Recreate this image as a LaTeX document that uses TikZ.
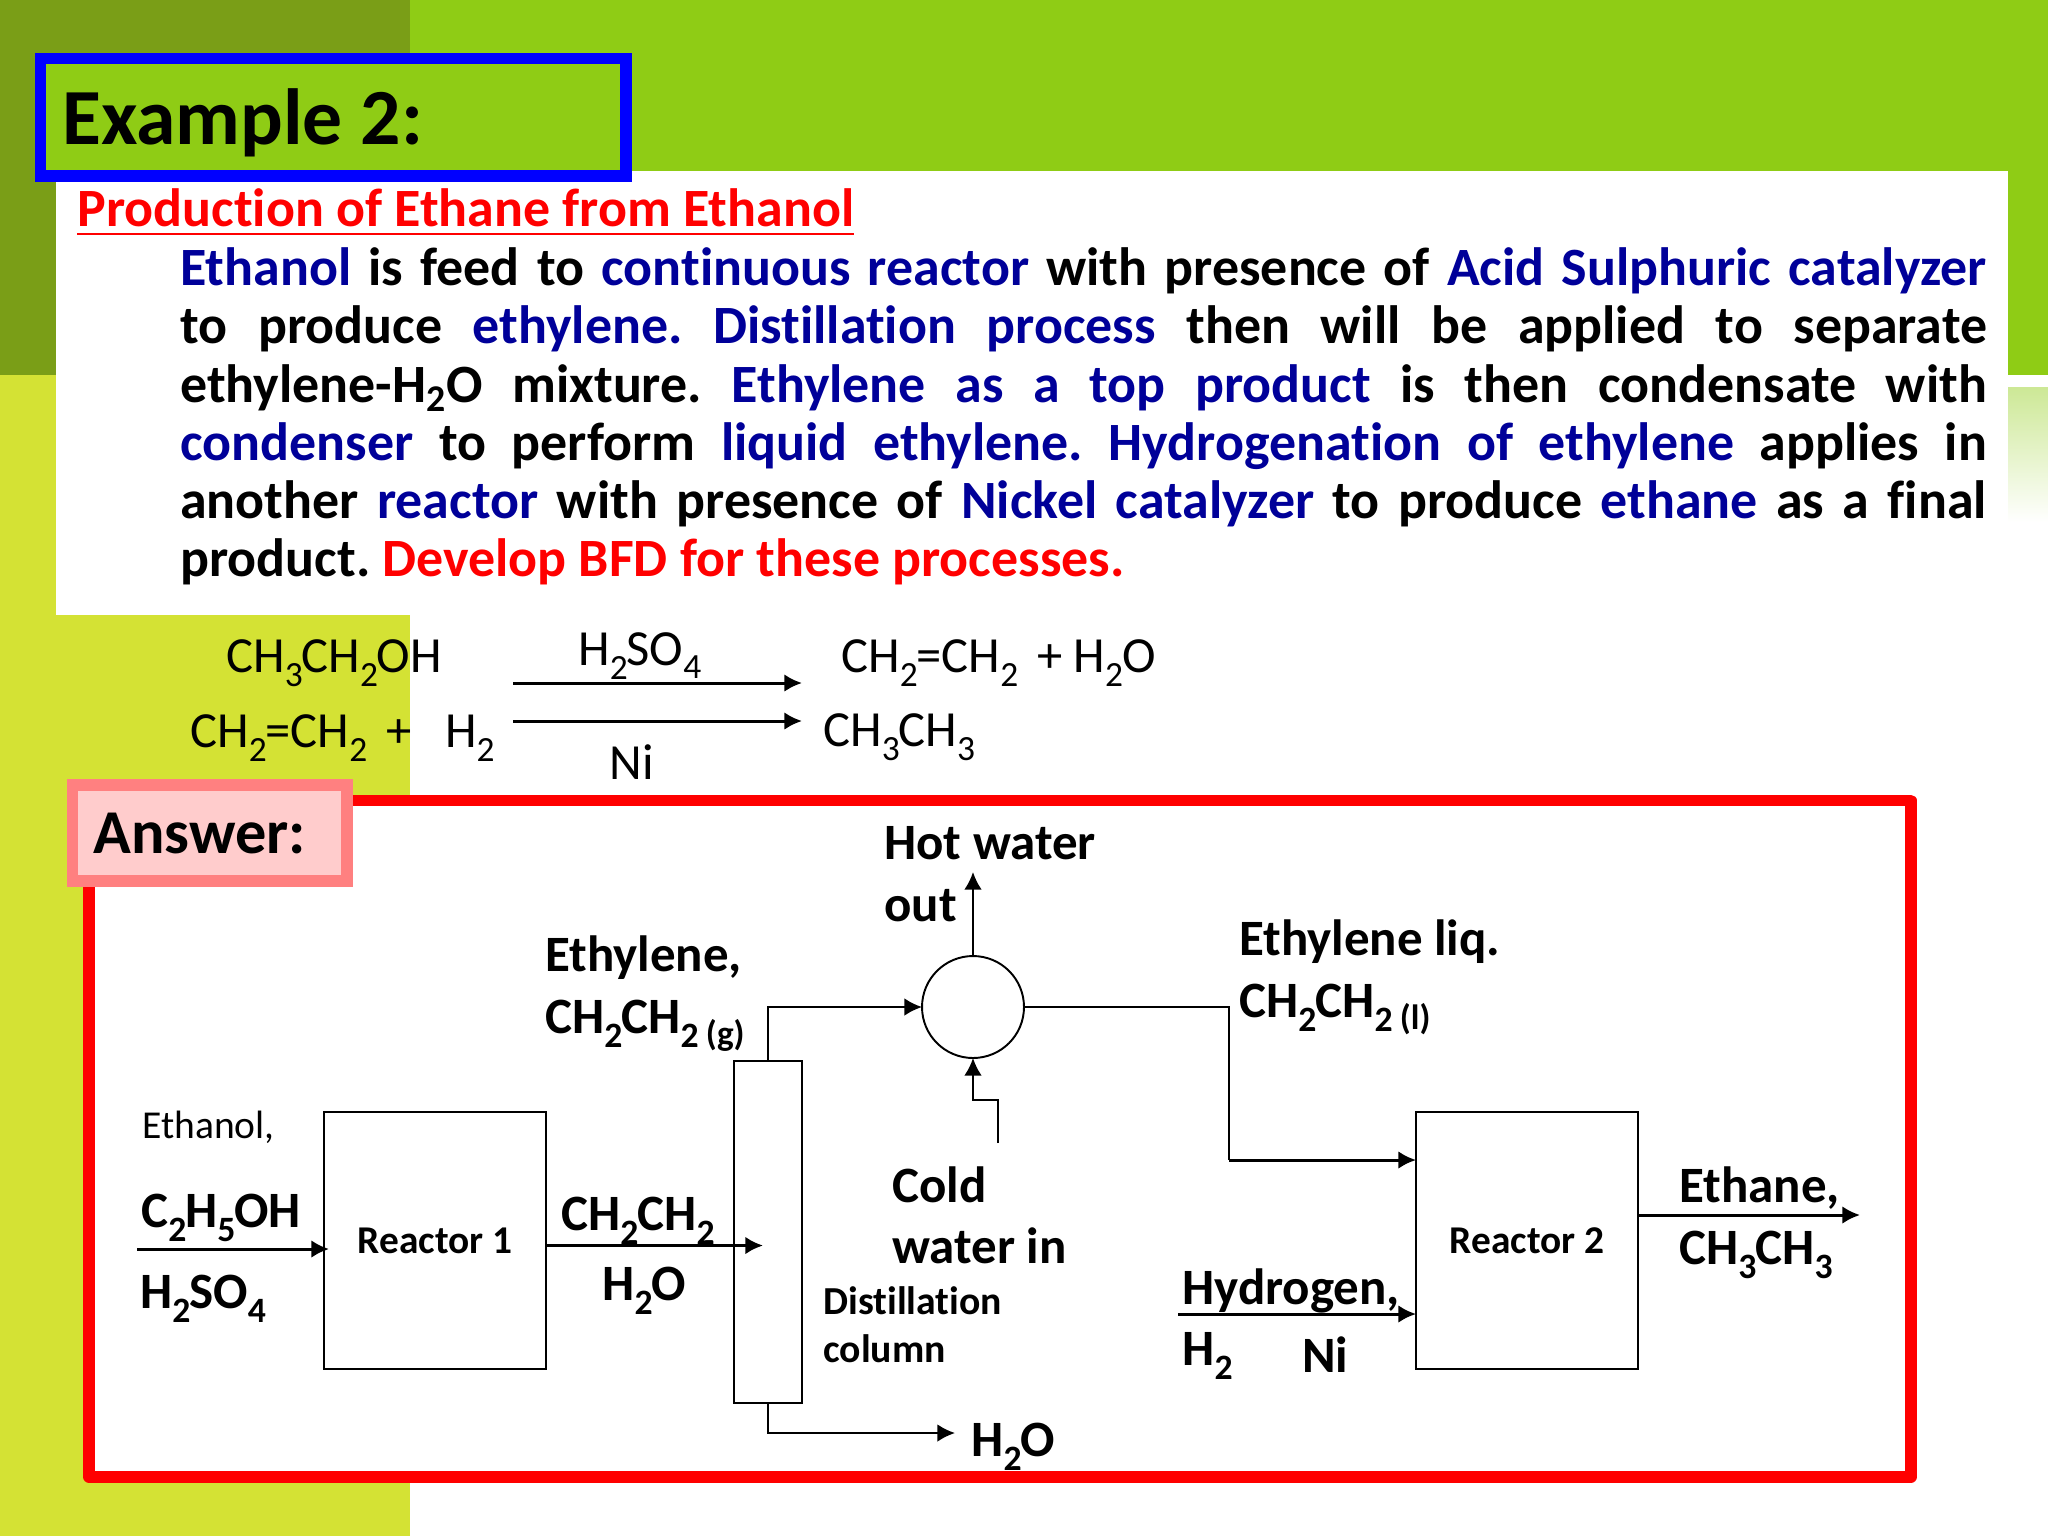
\documentclass[tikz,border=0pt]{standalone}
\usepackage{fontspec}
\setmainfont{Carlito}[Ligatures=NoCommon]
\usetikzlibrary{calc,arrows.meta}
\definecolor{olive}{HTML}{7A9E17}
\definecolor{lime}{HTML}{8FCC15}
\definecolor{pear}{HTML}{D4E234}
\definecolor{navy}{HTML}{000099}
\definecolor{salmon}{HTML}{FF8080}
\definecolor{blush}{HTML}{FFCCCC}
\newcommand{\sbs}[1]{\raisebox{-0.12em}{\textsubscript{#1}}\kern-0.04em\relax}
\newcommand{\phs}[1]{\,{\fontsize{20}{24}\selectfont\raisebox{-7pt}{#1}}}
\newcommand{\nv}[1]{\textcolor{navy}{#1}}

\begin{document}
\begin{tikzpicture}[x=0.02cm,y=-0.02cm,
lb/.style={anchor=base west, inner sep=0pt, font=\fontsize{29}{35}\selectfont\bfseries},
ls/.style={anchor=base west, inner sep=0pt, font=\fontsize{22.6}{27}\selectfont\bfseries},
lr/.style={anchor=base west, inner sep=0pt, font=\fontsize{28.8}{34}\selectfont},
unit/.style={draw, line width=1.1pt, inner sep=0pt, outer sep=0pt, font=\fontsize{22.4}{27}\selectfont\bfseries},
flow/.style={line width=1.2pt, -{Latex[length=10pt,width=10pt]}},
heavy/.style={line width=1.7pt, -{Latex[length=10pt,width=10pt]}},
pipe/.style={line width=1.2pt},
]
\useasboundingbox (0,0) rectangle (2048,1536);
\fill[white] (0,0) rectangle (2048,1536);
\fill[lime] (410,0) rectangle (2048,375);
\fill[olive] (0,0) rectangle (410,375);
\fill[pear] (0,375) rectangle (410,1536);
\shade[top color=lime!45!white, bottom color=white] (2008,387) rectangle (2048,522);
\fill[white] (56,171) rectangle (2008,615);
\draw[blue, fill=lime, line width=6.3pt] (40.5,58.5) rectangle (626,176);
\node[lb, font=\fontsize{45.3}{54}\selectfont\bfseries] (exlabel) at (62,144) {Example 2:};
\node[lb, font=\fontsize{30.7}{37}\selectfont\bfseries, red] (prodtitle) at (77,226) {Production of Ethane from Ethanol};
\draw[red, line width=1.6pt] ($(prodtitle.base west)+(0,8)$) -- ($(prodtitle.base east)+(0,8)$);
\node[anchor=north west, inner sep=0pt, text width=36.14cm, align=justify, font=\fontsize{30.7}{33.14}\selectfont\bfseries\frenchspacing] (brief) at (180,247.5) {%
\nv{Ethanol} is feed to \nv{continuous reactor} with presence of \nv{Acid Sulphuric catalyzer}\linebreak
to produce \nv{ethylene. Distillation process} then will be applied to separate\linebreak
ethylene-H\textsubscript{2}O mixture. \nv{Ethylene as a top product} is then condensate with\linebreak
\nv{condenser} to perform \nv{liquid ethylene. Hydrogenation of ethylene} applies in\linebreak
another \nv{reactor} with presence of \nv{Nickel catalyzer} to produce \nv{ethane} as a final\linebreak
product. \textcolor{red}{Develop BFD for these processes.}};

\node[lr] (feedA) at (226,672) {CH\sbs{3}CH\sbs{2}OH};
\node[lr] (catA) at (578,665) {H\sbs{2}SO\sbs{4}};
\node[lr] (prodA) at (841,672) {CH\sbs{2}=CH\sbs{2} \,+ H\sbs{2}O};
\node[lr] (feedB) at (190,747) {CH\sbs{2}=CH\sbs{2} \,+\;\, H\sbs{2}};
\node[lr] (catB) at (609,779) {Ni};
\node[lr] (prodB) at (823,746) {CH\sbs{3}CH\sbs{3}};
\coordinate (eqAs) at (513,683);
\coordinate (eqAe) at (802,683);
\coordinate (eqBs) at (513,721);
\coordinate (eqBe) at (802,721);
\draw[heavy] (eqAs) -- (eqAe);
\draw[heavy] (eqBs) -- (eqBe);

\draw[red, fill=white, line width=6.3pt, line join=round] (89,800.5) rectangle (1911,1477);
\draw[salmon, fill=blush, line width=6.3pt] (72.5,785) rectangle (347,881);
\node[lb, font=\fontsize{35.5}{42}\selectfont\bfseries] (anslabel) at (93,853) {Answer:};

\node[unit, minimum width=4.44cm, minimum height=5.14cm] (reactorA) at (435,1240.5) {Reactor 1};
\node[unit, minimum width=4.44cm, minimum height=5.14cm] (reactorB) at (1527,1240.5) {Reactor 2};
\node[unit, minimum width=1.37cm, minimum height=6.84cm] (column) at (768,1232) {};
\node[unit, circle, minimum size=2.04cm] (cond) at (973,1007) {};

\coordinate (feedin) at (137,1249);
\coordinate (colin) at (763,1245.5);
\coordinate (waterout) at (955,1433);
\coordinate (hotout) at (973,872);
\coordinate (coldin) at (998,1143);
\coordinate (hydin) at (1178,1314);
\coordinate (ethout) at (1860,1215);
\coordinate (liqturn) at (1229,1007);
\coordinate (liqin) at (1229,1160);

\draw[heavy] (feedin) -- ($(feedin -| reactorA.west)+(5,0)$);
\draw[heavy] (colin -| reactorA.east) -- (colin);
\draw[flow] (column.north) |- (cond.west);
\draw[flow] (column.south) |- (waterout);
\draw[flow] (cond.north) -- (hotout);
\draw[flow] (coldin) |- (973,1100) -- (cond.south);
\draw[pipe] (cond.east) -- (liqturn) -- (liqin);
\draw[heavy] (liqin) -- (liqin -| reactorB.west);
\draw[heavy] (hydin) -- (hydin -| reactorB.west);
\draw[heavy] (ethout -| reactorB.east) -- (ethout);

\node[lb] (hota) at (884,859) {Hot water};
\node[lb] (hotb) at (884,921) {out};
\node[lb] (etha) at (545,971) {Ethylene,};
\node[lb] (ethb) at (545,1033) {CH\sbs{2}CH\sbs{2}\phs{(g)}};
\node[lr, font=\fontsize{22.5}{27}\selectfont] (ethanol) at (142,1138) {Ethanol,};
\node[lb] (feedf) at (141,1227) {C\sbs{2}H\sbs{5}OH};
\node[lb] (feedc) at (140,1308) {H\sbs{2}SO\sbs{4}};
\node[lb] (mixa) at (561,1230) {CH\sbs{2}CH\sbs{2}};
\node[lb] (mixb) at (602,1300) {H\sbs{2}O};
\node[lb] (colda) at (892,1202) {Cold};
\node[lb] (coldb) at (892,1263) {water in};
\node[ls] (cola) at (823,1314) {Distillation};
\node[ls] (colb) at (823,1362) {column};
\node[lb] (botw) at (971,1456) {H\sbs{2}O};
\node[lb] (liqa) at (1239,955) {Ethylene liq.};
\node[lb] (liqb) at (1239,1017) {CH\sbs{2}CH\sbs{2}\phs{(l)}};
\node[lb] (enda) at (1679,1202) {Ethane,};
\node[lb] (endb) at (1679,1264) {CH\sbs{3}CH\sbs{3}};
\node[lb] (hyda) at (1182,1304) {Hydrogen,};
\node[lb] (hydb) at (1182,1365) {H\sbs{2}};
\node[lb] (nicat) at (1302,1372) {Ni};
\end{tikzpicture}
\end{document}
